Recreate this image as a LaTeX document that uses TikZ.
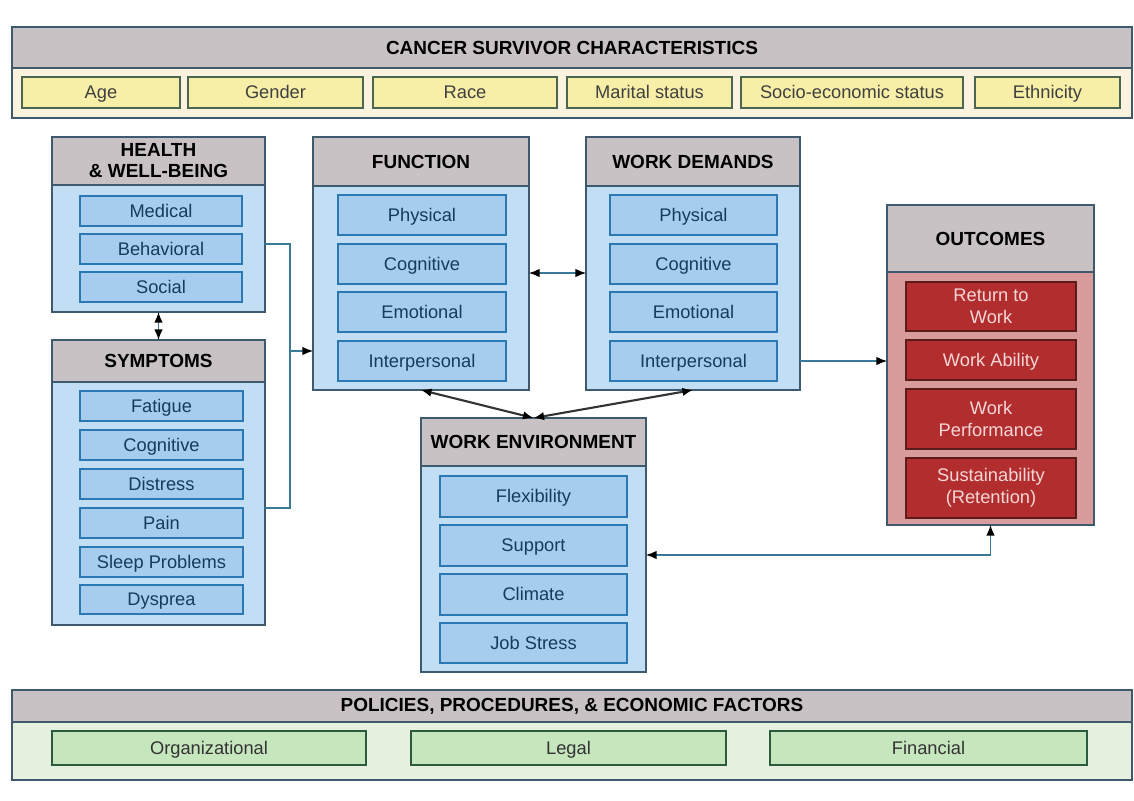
\documentclass[tikz,border=0pt]{standalone}
\usepackage{fontspec}
\setmainfont{Liberation Sans}
\usetikzlibrary{arrows.meta}

\definecolor{frameline}{HTML}{3E5A6C}
\definecolor{hdrgray}{HTML}{C8C2C4}
\definecolor{creamband}{HTML}{FBF3DE}
\definecolor{yelitem}{HTML}{F7EFA8}
\definecolor{yelline}{HTML}{4A6650}
\definecolor{bluebody}{HTML}{C2DEF4}
\definecolor{blueitem}{HTML}{A6CDEE}
\definecolor{blueline}{HTML}{2A78B4}
\definecolor{bluetext}{HTML}{163A60}
\definecolor{pinkbody}{HTML}{D99C9C}
\definecolor{reditem}{HTML}{B22E2E}
\definecolor{redline}{HTML}{5C1C1C}
\definecolor{redtext}{HTML}{F6D6D6}
\definecolor{greenband}{HTML}{E6F0DE}
\definecolor{greenitem}{HTML}{C6E6BE}
\definecolor{greenline}{HTML}{2C5A3C}
\definecolor{linkcol}{HTML}{3A7A98}

% name, style, x1, y1, x2, y2, text
\newcommand{\blk}[7]{%
  \pgfmathsetmacro\bw{(#5-#3)*0.025}%
  \pgfmathsetmacro\bh{(#6-#4)*0.025}%
  \node[#2, minimum width=\bw cm, minimum height=\bh cm] (#1) at ({(#3+#5)/2},{(#4+#6)/2}) {#7};}

\begin{document}
\begin{tikzpicture}[x=0.025cm,y=-0.025cm]
    \tikzstyle{every node}+=[inner sep=0pt, outer sep=0pt, align=center]
    \tikzset{
      frame/.style={draw=frameline, line width=1.2pt},
      hdr/.style={frame, fill=hdrgray, font=\fontsize{13.5}{15}\selectfont\bfseries},
      bluebox/.style={frame, fill=bluebody},
      oneline/.style={text height=9.4pt, text depth=0.4pt},
      item/.style={draw=blueline, line width=1.2pt, fill=blueitem, text=bluetext, oneline, font=\fontsize{13}{15}\selectfont},
      yelbox/.style={item, draw=yelline, fill=yelitem, text=black!75},
      redbox/.style={draw=redline, line width=1.2pt, fill=reditem, text=redtext, font=\fontsize{13}{16}\selectfont},
      grnbox/.style={item, draw=greenline, fill=greenitem, text=black!80},
      link/.style={draw=linkcol, line width=0.9pt},
      tip/.style={{Latex[length=7.5pt,width=6pt,color=black]}-{Latex[length=7.5pt,width=6pt,color=black]}},
      arr/.style={link, -{Latex[length=7.5pt,width=6pt,color=black]}},
      both/.style={link, tip},
      dark/.style={draw=black!80, line width=1.5pt, tip}
    }
    \useasboundingbox (0,0) rectangle (1134,801);

    % cancer survivor characteristics
    \blk{surv}{frame, fill=creamband}{12}{27}{1132}{118}{}
    \blk{survhd}{hdr}{12}{27}{1132}{68}{CANCER SURVIVOR CHARACTERISTICS}
    \blk{age}{yelbox}{22}{77}{180}{108}{Age}
    \blk{gender}{yelbox}{188}{77}{363}{108}{Gender}
    \blk{race}{yelbox}{373}{77}{557}{108}{Race}
    \blk{marital}{yelbox}{567}{77}{732}{108}{Marital status}
    \blk{ses}{yelbox}{741}{77}{963}{108}{Socio-economic status}
    \blk{ethn}{yelbox}{975}{77}{1120}{108}{Ethnicity}

    % health & well-being
    \blk{health}{bluebox}{52}{137}{265}{312}{}
    \blk{healthhd}{hdr}{52}{137}{265}{185}{HEALTH\\\& WELL-BEING}
    \blk{medical}{item}{80}{196}{242}{226}{Medical}
    \blk{behav}{item}{80}{234}{242}{264}{Behavioral}
    \blk{social}{item}{80}{272}{242}{302}{Social}

    % symptoms
    \blk{sympt}{bluebox}{52}{340}{265}{625}{}
    \blk{symptd}{hdr}{52}{340}{265}{382}{SYMPTOMS}
    \blk{fatigue}{item}{80}{391}{243}{421}{Fatigue}
    \blk{scog}{item}{80}{430}{243}{460}{Cognitive}
    \blk{distress}{item}{80}{469}{243}{499}{Distress}
    \blk{pain}{item}{80}{508}{243}{538}{Pain}
    \blk{sleep}{item}{80}{547}{243}{577}{Sleep Problems}
    \blk{dysp}{item}{80}{585}{243}{614}{Dysprea}

    % function
    \blk{func}{bluebox}{313}{137}{529}{390}{}
    \blk{funchd}{hdr}{313}{137}{529}{186}{FUNCTION}
    \blk{fphys}{item}{338}{195}{506}{235}{Physical}
    \blk{fcog}{item}{338}{244}{506}{284}{Cognitive}
    \blk{femo}{item}{338}{292}{506}{332}{Emotional}
    \blk{finter}{item}{338}{341}{506}{381}{Interpersonal}

    % work demands
    \blk{wdem}{bluebox}{586}{137}{800}{390}{}
    \blk{wdemhd}{hdr}{586}{137}{800}{186}{WORK DEMANDS}
    \blk{wphys}{item}{610}{195}{777}{235}{Physical}
    \blk{wcog}{item}{610}{244}{777}{284}{Cognitive}
    \blk{wemo}{item}{610}{292}{777}{332}{Emotional}
    \blk{winter}{item}{610}{341}{777}{381}{Interpersonal}

    % work environment
    \blk{env}{bluebox}{421}{418}{646}{672}{}
    \blk{envhd}{hdr}{421}{418}{646}{466}{WORK ENVIRONMENT}
    \blk{flex}{item}{440}{476}{627}{517}{Flexibility}
    \blk{support}{item}{440}{525}{627}{566}{Support}
    \blk{climate}{item}{440}{574}{627}{615}{Climate}
    \blk{jobstress}{item}{440}{623}{627}{663}{Job Stress}

    % outcomes
    \blk{outc}{frame, fill=pinkbody}{887}{205}{1094}{525}{}
    \blk{outchd}{hdr}{887}{205}{1094}{272}{OUTCOMES}
    \blk{rtw}{redbox}{906}{282}{1076}{331}{Return to\\Work}
    \blk{ability}{redbox, oneline}{906}{340}{1076}{380}{Work Ability}
    \blk{perf}{redbox}{906}{389}{1076}{449}{Work\\Performance}
    \blk{sustain}{redbox}{906}{458}{1076}{518}{Sustainability\\(Retention)}

    % policies, procedures, & economic factors
    \blk{pol}{frame, fill=greenband}{12}{690}{1132}{780}{}
    \blk{polhd}{hdr}{12}{690}{1132}{722}{POLICIES, PROCEDURES, \& ECONOMIC FACTORS}
    \blk{org}{grnbox}{52}{731}{366}{765}{Organizational}
    \blk{legal}{grnbox}{411}{731}{726}{765}{Legal}
    \blk{fin}{grnbox}{770}{731}{1087}{765}{Financial}

    % connectors
    \coordinate (brtop) at (290,244);
    \coordinate (brmid) at (290,351);
    \coordinate (brbot) at (290,508);
    \coordinate (fw) at (557,273);
    \coordinate (oe) at (990,555);
    \draw [both] (health.south) -- (sympt.north);
    \draw [link] (health.east |- brtop) -- (brtop) -- (brbot) -- (sympt.east |- brbot);
    \draw [arr] (brmid) -- (func.west |- brmid);
    \draw [both] (func.east |- fw) -- (wdem.west |- fw);
    \draw [arr] (wdem.east |- winter) -- (outc.west |- winter);
    \draw [dark] (func.south) -- (env.north);
    \draw [dark] (wdem.south) -- (env.north);
    \draw [both] (outc.south) -- (outc.south |- oe) -- (env.east |- oe);
\end{tikzpicture}
\end{document}
